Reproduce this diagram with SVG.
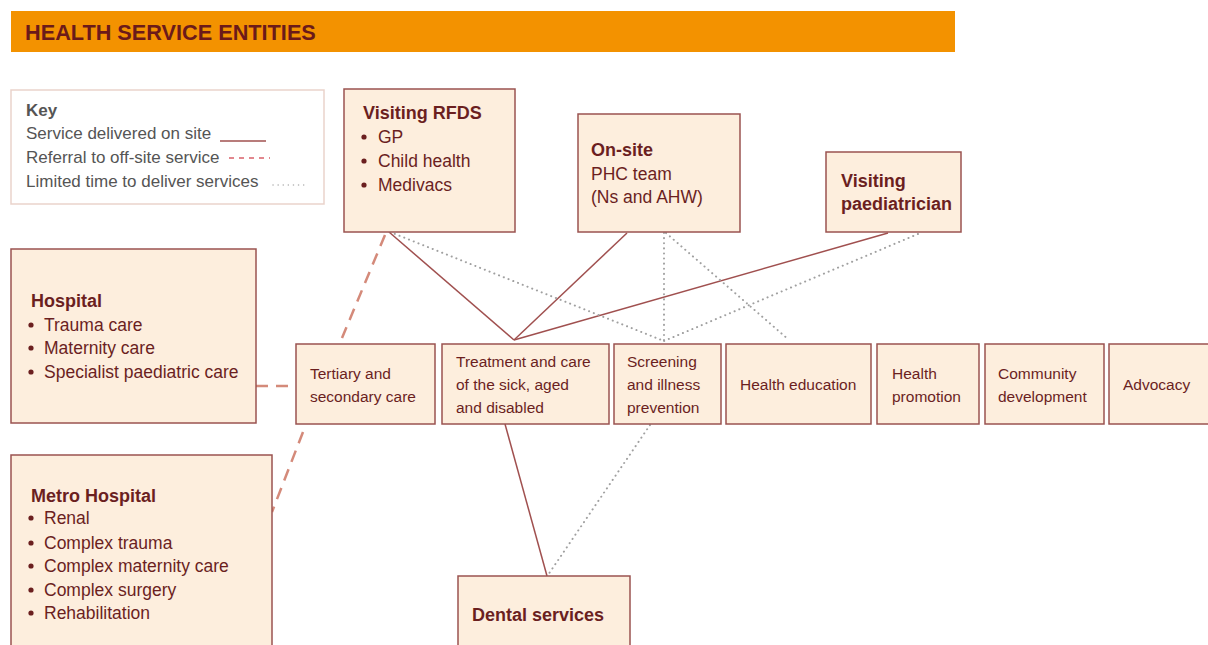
<svg xmlns="http://www.w3.org/2000/svg" width="1208" height="645" viewBox="0 0 1208 645">
  <style>
    .box { fill: #FDEEDD; stroke: #9A5350; stroke-width: 1.5; }
    .title { font-family: "Liberation Sans", Arial, sans-serif; font-weight: bold; font-size: 18px; fill: #6B1F1F; }
    .txt { font-family: "Liberation Sans", Arial, sans-serif; font-size: 17.5px; fill: #6B1F1F; }
    .small { font-family: "Liberation Sans", Arial, sans-serif; font-size: 15.5px; fill: #6B1F1F; }
    .key { font-family: "Liberation Sans", Arial, sans-serif; font-size: 17px; fill: #555555; }
    .bullet { fill: #6B1F1F; }
    .solid { stroke: #A0504F; stroke-width: 1.5; fill: none; }
    .dashed { stroke: #D48A7A; stroke-width: 2.5; stroke-dasharray: 12 8; fill: none; }
    .dotted { stroke: #A0A0A0; stroke-width: 2; stroke-dasharray: 0.1 5; stroke-linecap: round; fill: none; }
  </style>

  <!-- header bar -->
  <g id="header">
    <rect x="11" y="11" width="944" height="41" fill="#F39200"/>
    <text x="25" y="40" font-family="Liberation Sans, Arial, sans-serif" font-weight="bold" font-size="21.7" fill="#6B1A1A">HEALTH SERVICE ENTITIES</text>
  </g>

  <!-- legend -->
  <g id="key">
    <rect x="11" y="90" width="313" height="114" fill="#FFFFFF" stroke="#EAD3CB" stroke-width="1.5"/>
    <text x="26" y="116" class="key" font-weight="bold" font-size="17.5">Key</text>
    <text x="26" y="139" class="key">Service delivered on site</text>
    <line x1="220" y1="141" x2="266" y2="141" class="solid"/>
    <text x="26" y="163" class="key">Referral to off-site service</text>
    <line x1="229" y1="158" x2="270" y2="158" stroke="#D9606A" stroke-width="1.5" stroke-dasharray="5 5"/>
    <text x="26" y="187" class="key">Limited time to deliver services</text>
    <line x1="273" y1="185" x2="306" y2="185" stroke="#B0B0B0" stroke-width="1.5" stroke-dasharray="0.1 5" stroke-linecap="round"/>
  </g>

  <!-- connectors -->
  <g id="connectors">
    <!-- services delivered on site -->
    <line x1="389" y1="232" x2="514" y2="340" class="solid"/>
    <line x1="627" y1="233" x2="514" y2="340" class="solid"/>
    <line x1="888" y1="233" x2="514" y2="340" class="solid"/>
    <line x1="505" y1="424" x2="547" y2="576" class="solid"/>
    <!-- referrals off site -->
    <line x1="385" y1="235" x2="342" y2="338" class="dashed"/>
    <line x1="256" y1="386" x2="296" y2="386" class="dashed"/>
    <line x1="303" y1="432" x2="272" y2="512" class="dashed"/>
    <!-- limited time -->
    <line x1="390" y1="232" x2="664" y2="341" class="dotted"/>
    <line x1="664" y1="233" x2="664" y2="341" class="dotted"/>
    <line x1="666" y1="233" x2="789" y2="340" class="dotted"/>
    <line x1="918" y1="234" x2="664" y2="341" class="dotted"/>
    <line x1="650" y1="425" x2="548" y2="575" class="dotted"/>
  </g>

  <!-- visiting RFDS -->
  <g id="rfds">
    <rect x="344" y="89" width="171" height="143" class="box"/>
    <text x="363" y="119" class="title">Visiting RFDS</text>
    <circle cx="364" cy="137" r="2.6" class="bullet"/>
    <text x="378" y="143" class="txt">GP</text>
    <circle cx="364" cy="161" r="2.6" class="bullet"/>
    <text x="378" y="167" class="txt">Child health</text>
    <circle cx="364" cy="185" r="2.6" class="bullet"/>
    <text x="378" y="191" class="txt">Medivacs</text>
  </g>

  <!-- on-site team -->
  <g id="onsite">
    <rect x="578" y="114" width="162" height="118" class="box"/>
    <text x="591" y="156" class="title">On-site</text>
    <text x="591" y="180" class="txt">PHC team</text>
    <text x="591" y="203" class="txt">(Ns and AHW)</text>
  </g>

  <!-- visiting paediatrician -->
  <g id="paediatrician">
    <rect x="826" y="152" width="135" height="80" class="box"/>
    <text x="841" y="187" class="title">Visiting</text>
    <text x="841" y="210" class="title">paediatrician</text>
  </g>

  <!-- hospital -->
  <g id="hospital">
    <rect x="11" y="249" width="245" height="174" class="box"/>
    <text x="31" y="307" class="title">Hospital</text>
    <circle cx="31" cy="325" r="2.6" class="bullet"/>
    <text x="44" y="331" class="txt">Trauma care</text>
    <circle cx="31" cy="348" r="2.6" class="bullet"/>
    <text x="44" y="354" class="txt">Maternity care</text>
    <circle cx="31" cy="372" r="2.6" class="bullet"/>
    <text x="44" y="378" class="txt">Specialist paediatric care</text>
  </g>

  <!-- metro hospital -->
  <g id="metro">
    <rect x="11" y="455" width="261" height="200" class="box"/>
    <text x="31" y="502" class="title">Metro Hospital</text>
    <circle cx="31" cy="518" r="2.6" class="bullet"/>
    <text x="44" y="524" class="txt">Renal</text>
    <circle cx="31" cy="543" r="2.6" class="bullet"/>
    <text x="44" y="549" class="txt">Complex trauma</text>
    <circle cx="31" cy="566" r="2.6" class="bullet"/>
    <text x="44" y="572" class="txt">Complex maternity care</text>
    <circle cx="31" cy="590" r="2.6" class="bullet"/>
    <text x="44" y="596" class="txt">Complex surgery</text>
    <circle cx="31" cy="613" r="2.6" class="bullet"/>
    <text x="44" y="619" class="txt">Rehabilitation</text>
  </g>

  <!-- service categories -->
  <g id="tertiary">
    <rect x="296" y="344" width="139" height="80" class="box"/>
    <text x="310" y="379" class="small">Tertiary and</text>
    <text x="310" y="402" class="small">secondary care</text>
  </g>
  <g id="treatment">
    <rect x="442" y="344" width="167" height="80" class="box"/>
    <text x="456" y="367" class="small">Treatment and care</text>
    <text x="456" y="390" class="small">of the sick, aged</text>
    <text x="456" y="413" class="small">and disabled</text>
  </g>
  <g id="screening">
    <rect x="614" y="344" width="107" height="80" class="box"/>
    <text x="627" y="367" class="small">Screening</text>
    <text x="627" y="390" class="small">and illness</text>
    <text x="627" y="413" class="small">prevention</text>
  </g>
  <g id="education">
    <rect x="726" y="344" width="145" height="80" class="box"/>
    <text x="740" y="390" class="small">Health education</text>
  </g>
  <g id="promotion">
    <rect x="877" y="344" width="102" height="80" class="box"/>
    <text x="892" y="379" class="small">Health</text>
    <text x="892" y="402" class="small">promotion</text>
  </g>
  <g id="community">
    <rect x="985" y="344" width="119" height="80" class="box"/>
    <text x="998" y="379" class="small">Community</text>
    <text x="998" y="402" class="small">development</text>
  </g>
  <g id="advocacy">
    <rect x="1109" y="344" width="110" height="80" class="box"/>
    <text x="1123" y="390" class="small">Advocacy</text>
  </g>

  <!-- dental -->
  <g id="dental">
    <rect x="458" y="576" width="172" height="80" class="box"/>
    <text x="472" y="621" class="title">Dental services</text>
  </g>
</svg>
